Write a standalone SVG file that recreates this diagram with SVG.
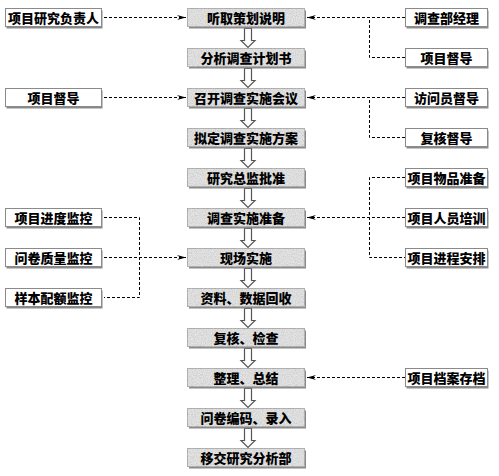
<svg xmlns="http://www.w3.org/2000/svg" width="499" height="476" viewBox="0 0 499 476">
<style>
.t{font-family:"Noto Sans CJK SC","Liberation Sans",sans-serif;font-size:13px;font-weight:900;fill:#000;text-anchor:middle}
.mb{fill:#e4e4e4;stroke:#a8a8a8;stroke-width:1}
.sh{fill:#8a8a8a}
.sb{fill:#fff;stroke:#8a8a8a;stroke-width:1}
.dl{fill:none;stroke:#000;stroke-width:1;stroke-dasharray:3,2}
.ba{fill:#fff;stroke:#555;stroke-width:1.2}
</style>
<defs>
<marker id="ah" markerUnits="userSpaceOnUse" markerWidth="10" markerHeight="6" refX="9" refY="3" orient="auto">
<path d="M0,0.5 L9,3 L0,5.5 L3,3 z" fill="#000"/>
</marker>
<filter id="noise" x="0" y="0" width="100%" height="100%">
<feTurbulence type="fractalNoise" baseFrequency="0.9" numOctaves="2" seed="3" result="n"/>
<feColorMatrix in="n" type="matrix" values="0 0 0 0 0.55  0 0 0 0 0.55  0 0 0 0 0.55  0 0 0 -1.6 1.05" result="g"/>
<feComposite in="g" in2="SourceGraphic" operator="in" result="gi"/>
<feMerge><feMergeNode in="SourceGraphic"/><feMergeNode in="gi"/></feMerge>
</filter>
</defs>

<g id="connectors">
<g id="block-arrows">
<polygon class="ba" points="244.5,28.5 251.5,28.5 251.5,40.5 255,40.5 248,47.5 241,40.5 244.5,40.5"/>
<polygon class="ba" points="244.5,68.5 251.5,68.5 251.5,80.5 255,80.5 248,87.5 241,80.5 244.5,80.5"/>
<polygon class="ba" points="244.5,108.5 251.5,108.5 251.5,120.5 255,120.5 248,127.5 241,120.5 244.5,120.5"/>
<polygon class="ba" points="244.5,148.5 251.5,148.5 251.5,160.5 255,160.5 248,167.5 241,160.5 244.5,160.5"/>
<polygon class="ba" points="244.5,188.5 251.5,188.5 251.5,200.5 255,200.5 248,207.5 241,200.5 244.5,200.5"/>
<polygon class="ba" points="244.5,228.5 251.5,228.5 251.5,240.5 255,240.5 248,247.5 241,240.5 244.5,240.5"/>
<polygon class="ba" points="244.5,268.5 251.5,268.5 251.5,280.5 255,280.5 248,287.5 241,280.5 244.5,280.5"/>
<polygon class="ba" points="244.5,308.5 251.5,308.5 251.5,320.5 255,320.5 248,327.5 241,320.5 244.5,320.5"/>
<polygon class="ba" points="244.5,348.5 251.5,348.5 251.5,360.5 255,360.5 248,367.5 241,360.5 244.5,360.5"/>
<polygon class="ba" points="244.5,388.5 251.5,388.5 251.5,400.5 255,400.5 248,407.5 241,400.5 244.5,400.5"/>
<polygon class="ba" points="244.5,428.5 251.5,428.5 251.5,440.5 255,440.5 248,447.5 241,440.5 244.5,440.5"/>
</g>
<g id="dashed">
<path class="dl" d="M104,17.5 H186" marker-end="url(#ah)"/>
<path class="dl" d="M104,97.5 H186" marker-end="url(#ah)"/>
<path class="dl" d="M104,217.5 H139.5 V297.5 H104"/>
<path class="dl" d="M104,257.5 H186" marker-end="url(#ah)"/>
<path class="dl" d="M405,17.5 H307" marker-end="url(#ah)"/>
<path class="dl" d="M405,57.5 H369.5 V17.5"/>
<path class="dl" d="M405,97.5 H307" marker-end="url(#ah)"/>
<path class="dl" d="M405,137.5 H369.5 V97.5"/>
<path class="dl" d="M405,217.5 H307" marker-end="url(#ah)"/>
<path class="dl" d="M405,177.5 H369.5 V257.5 H405"/>
<path class="dl" d="M405,377.5 H307" marker-end="url(#ah)"/>
</g>
</g>

<g id="main-nodes">
<g id="m1"><rect class="sh" x="189" y="10.5" width="117" height="18"/><rect class="mb" x="187.5" y="8.5" width="117" height="18" filter="url(#noise)"/><text class="t" x="246" y="22.5">听取策划说明</text></g>
<g id="m2"><rect class="sh" x="189" y="50.5" width="117" height="18"/><rect class="mb" x="187.5" y="48.5" width="117" height="18" filter="url(#noise)"/><text class="t" x="246" y="62.5">分析调查计划书</text></g>
<g id="m3"><rect class="sh" x="189" y="90.5" width="117" height="18"/><rect class="mb" x="187.5" y="88.5" width="117" height="18" filter="url(#noise)"/><text class="t" x="246" y="102.5">召开调查实施会议</text></g>
<g id="m4"><rect class="sh" x="189" y="130.5" width="117" height="18"/><rect class="mb" x="187.5" y="128.5" width="117" height="18" filter="url(#noise)"/><text class="t" x="246" y="142.5">拟定调查实施方案</text></g>
<g id="m5"><rect class="sh" x="189" y="170.5" width="117" height="18"/><rect class="mb" x="187.5" y="168.5" width="117" height="18" filter="url(#noise)"/><text class="t" x="246" y="182.5">研究总监批准</text></g>
<g id="m6"><rect class="sh" x="189" y="210.5" width="117" height="18"/><rect class="mb" x="187.5" y="208.5" width="117" height="18" filter="url(#noise)"/><text class="t" x="246" y="222.5">调查实施准备</text></g>
<g id="m7"><rect class="sh" x="189" y="250.5" width="117" height="18"/><rect class="mb" x="187.5" y="248.5" width="117" height="18" filter="url(#noise)"/><text class="t" x="246" y="262.5">现场实施</text></g>
<g id="m8"><rect class="sh" x="189" y="290.5" width="117" height="18"/><rect class="mb" x="187.5" y="288.5" width="117" height="18" filter="url(#noise)"/><text class="t" x="246" y="302.5">资料、数据回收</text></g>
<g id="m9"><rect class="sh" x="189" y="330.5" width="117" height="18"/><rect class="mb" x="187.5" y="328.5" width="117" height="18" filter="url(#noise)"/><text class="t" x="246" y="342.5">复核、检查</text></g>
<g id="m10"><rect class="sh" x="189" y="370.5" width="117" height="18"/><rect class="mb" x="187.5" y="368.5" width="117" height="18" filter="url(#noise)"/><text class="t" x="246" y="382.5">整理、总结</text></g>
<g id="m11"><rect class="sh" x="189" y="410.5" width="117" height="18"/><rect class="mb" x="187.5" y="408.5" width="117" height="18" filter="url(#noise)"/><text class="t" x="246" y="422.5">问卷编码、录入</text></g>
<g id="m12"><rect class="sh" x="189" y="450.5" width="117" height="18"/><rect class="mb" x="187.5" y="448.5" width="117" height="18" filter="url(#noise)"/><text class="t" x="246" y="462.5">移交研究分析部</text></g>
</g>

<g id="left-nodes">
<g id="l1"><rect class="sh" x="6.5" y="10.5" width="96" height="18"/><rect class="sb" x="5.5" y="8.5" width="96" height="18"/><text class="t" x="53.5" y="22.5">项目研究负责人</text></g>
<g id="l2"><rect class="sh" x="6.5" y="90.5" width="96" height="18"/><rect class="sb" x="5.5" y="88.5" width="96" height="18"/><text class="t" x="53.5" y="102.5">项目督导</text></g>
<g id="l3"><rect class="sh" x="6.5" y="210.5" width="96" height="18"/><rect class="sb" x="5.5" y="208.5" width="96" height="18"/><text class="t" x="53.5" y="222.5">项目进度监控</text></g>
<g id="l4"><rect class="sh" x="6.5" y="250.5" width="96" height="18"/><rect class="sb" x="5.5" y="248.5" width="96" height="18"/><text class="t" x="53.5" y="262.5">问卷质量监控</text></g>
<g id="l5"><rect class="sh" x="6.5" y="290.5" width="96" height="18"/><rect class="sb" x="5.5" y="288.5" width="96" height="18"/><text class="t" x="53.5" y="302.5">样本配额监控</text></g>
</g>

<g id="right-nodes">
<g id="r1"><rect class="sh" x="406.5" y="10.5" width="82" height="18"/><rect class="sb" x="405.5" y="8.5" width="82" height="18"/><text class="t" x="446.5" y="22.5">调查部经理</text></g>
<g id="r2"><rect class="sh" x="406.5" y="50.5" width="82" height="18"/><rect class="sb" x="405.5" y="48.5" width="82" height="18"/><text class="t" x="446.5" y="62.5">项目督导</text></g>
<g id="r3"><rect class="sh" x="406.5" y="90.5" width="82" height="18"/><rect class="sb" x="405.5" y="88.5" width="82" height="18"/><text class="t" x="446.5" y="102.5">访问员督导</text></g>
<g id="r4"><rect class="sh" x="406.5" y="130.5" width="82" height="18"/><rect class="sb" x="405.5" y="128.5" width="82" height="18"/><text class="t" x="446.5" y="142.5">复核督导</text></g>
<g id="r5"><rect class="sh" x="406.5" y="170.5" width="82" height="18"/><rect class="sb" x="405.5" y="168.5" width="82" height="18"/><text class="t" x="446.5" y="182.5">项目物品准备</text></g>
<g id="r6"><rect class="sh" x="406.5" y="210.5" width="82" height="18"/><rect class="sb" x="405.5" y="208.5" width="82" height="18"/><text class="t" x="446.5" y="222.5">项目人员培训</text></g>
<g id="r7"><rect class="sh" x="406.5" y="250.5" width="82" height="18"/><rect class="sb" x="405.5" y="248.5" width="82" height="18"/><text class="t" x="446.5" y="262.5">项目进程安排</text></g>
<g id="r8"><rect class="sh" x="406.5" y="370.5" width="82" height="18"/><rect class="sb" x="405.5" y="368.5" width="82" height="18"/><text class="t" x="446.5" y="382.5">项目档案存档</text></g>
</g>
</svg>
